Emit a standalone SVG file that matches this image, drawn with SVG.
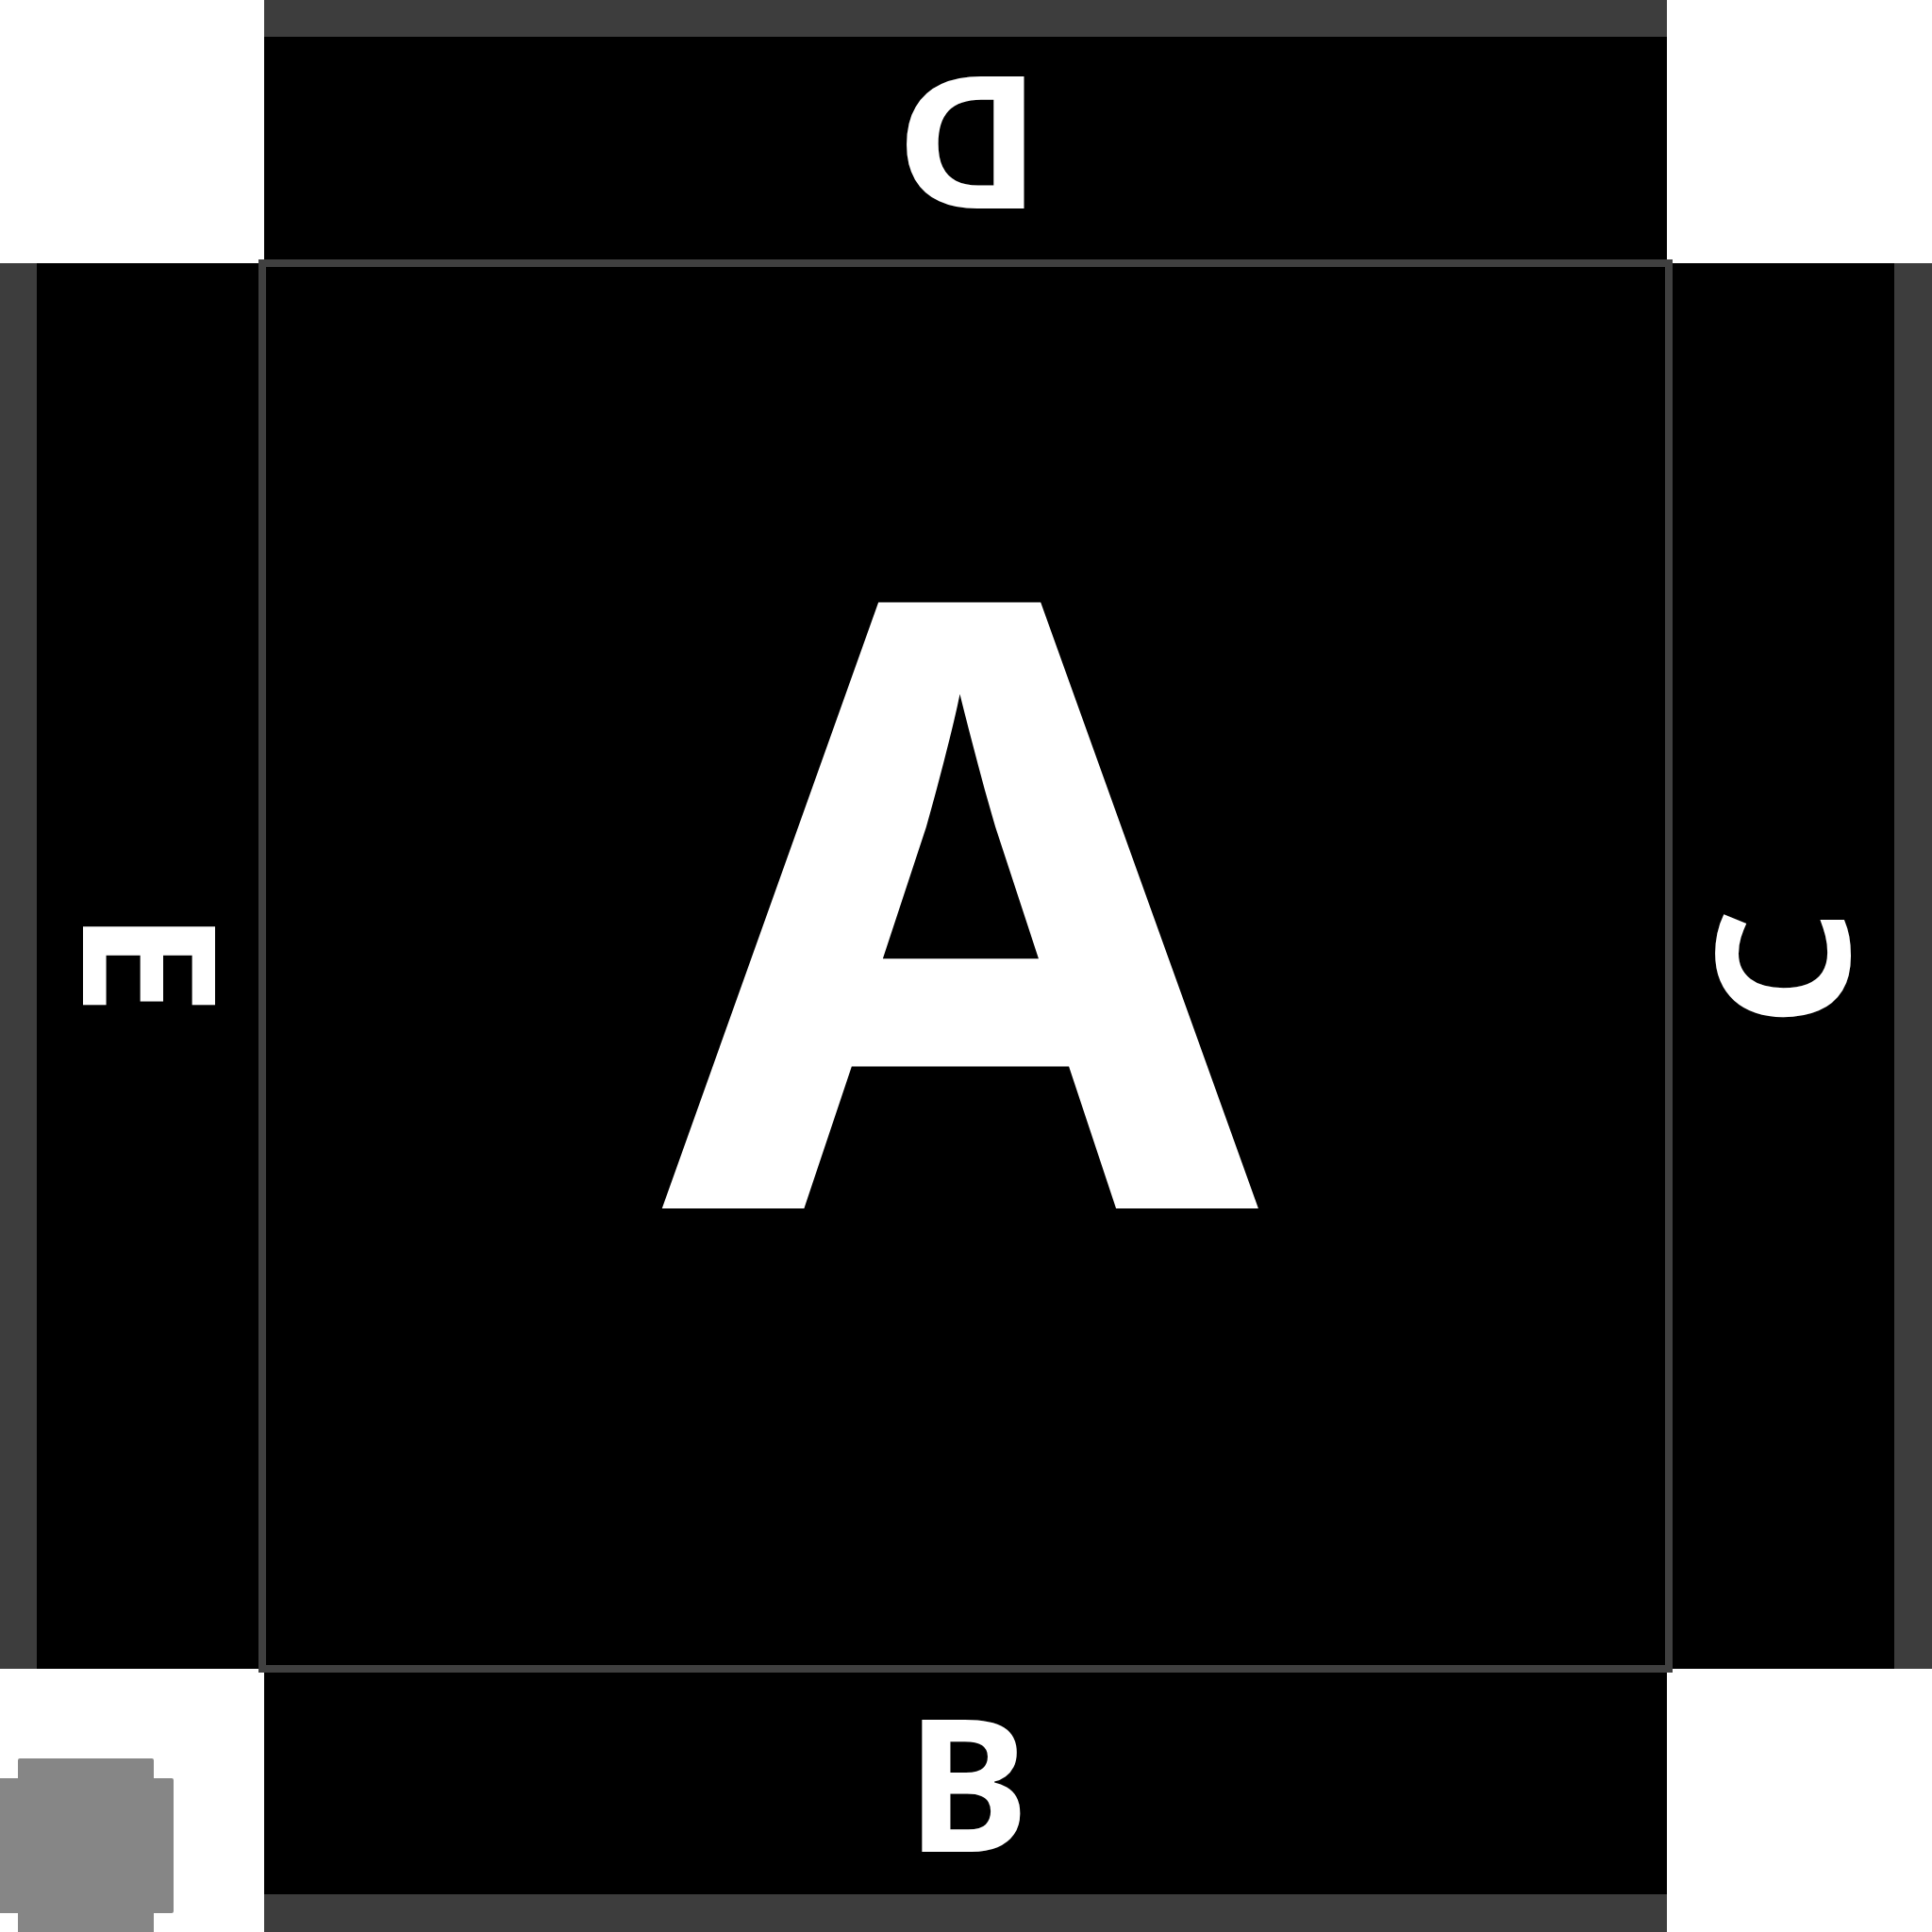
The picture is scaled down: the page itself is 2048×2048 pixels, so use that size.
<svg xmlns="http://www.w3.org/2000/svg" width="2048" height="2048" viewBox="0 0 2048 2048">
  <style>
    .panel { fill: #000000; }
    .strip { fill: #3d3d3d; }
    .lbl { font-family: "Noto Sans", "Open Sans", "Liberation Sans", sans-serif; font-weight: 700; fill: #ffffff; text-anchor: middle; }
    .small { font-size: 196px; }
  </style>
  <rect width="2048" height="2048" fill="#ffffff"/>
  <g id="node-D">
    <rect class="panel" x="280" y="0" width="1487" height="279"/>
    <rect class="strip" x="280" y="0" width="1487" height="39"/>
    <text class="lbl small" x="0" y="70" transform="translate(1026.5 150.7) rotate(180) scale(1.07 1)">D</text>
  </g>
  <g id="node-E">
    <rect class="panel" x="0" y="279" width="278" height="1490"/>
    <rect class="strip" x="0" y="279" width="39" height="1490"/>
    <text class="lbl small" x="0" y="70" transform="translate(158 1020.5) rotate(90) scale(1.03 1)">E</text>
  </g>
  <g id="node-C">
    <rect class="panel" x="1769" y="279" width="279" height="1490"/>
    <rect class="strip" x="2008" y="279" width="40" height="1490"/>
    <text class="lbl small" x="0" y="70" transform="translate(1890 1026) rotate(-90)">C</text>
  </g>
  <g id="node-B">
    <rect class="panel" x="280" y="1769" width="1487" height="279"/>
    <rect class="strip" x="280" y="2008" width="1487" height="40"/>
    <text class="lbl small" x="1026" y="1962.7">B</text>
  </g>
  <g id="node-A">
    <rect x="278" y="279" width="1491" height="1490" fill="#000000" stroke="#404040" stroke-width="8"/>
    <text class="lbl" x="0" y="0" font-size="896" transform="translate(1018 1281) scale(1.02 1)">A</text>
  </g>
  <g id="node-marker">
    <path d="M21 1864 H161 Q163 1864 163 1866 V1885 H182 Q184 1885 184 1887 V2026 Q184 2028 182 2028 H163 V2048 H19 V2028 H0 V1885 H19 V1866 Q19 1864 21 1864 Z" fill="#868686"/>
  </g>
  <g id="connectors"></g>
</svg>
